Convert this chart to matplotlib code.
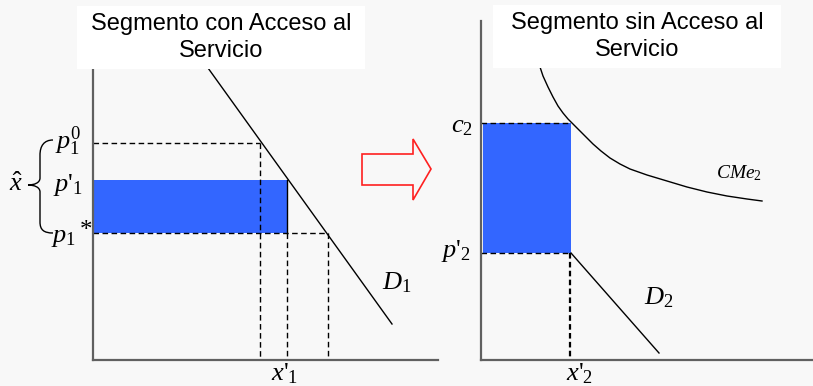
"""Two-panel diagram: market segments with and without access to the service."""

import matplotlib
matplotlib.use("Agg")
import matplotlib.pyplot as plt
from matplotlib.patches import Rectangle, Polygon, PathPatch
from matplotlib.path import Path

# --- data (figure pixel space, y grows downwards) ---
# left panel: segment with access
ax1_origin = (93, 360)
ax1_top = 68
ax1_right = 438
d1_x = [208, 392]
d1_y = [68, 324]
p1_0 = 143          # initial price
p1_prime = 180      # subsidised price
p1_star = 233       # optimal price
x_at_p0 = 260
x1_prime = 287
x_at_star = 328

# right panel: segment without access
ax2_origin = (481, 360)
ax2_top = 21
ax2_right = 813
c2 = 123
p2_prime = 253
x2_prime = 571
cme2_x = [540, 543, 548, 553, 558, 563, 568, 572, 578, 585, 593, 601,
          610, 620, 630, 647, 667, 687, 707, 727, 747, 762]
cme2_y = [67, 76, 87, 97, 106, 113, 119, 123, 129, 136, 144, 151,
          158, 164, 169, 175, 181, 187, 192, 196, 199, 201]
d2_x = [571, 659]
d2_y = [253, 353]

# arrow between panels
arrow_x = [362, 413, 413, 431, 413, 413, 362]
arrow_y = [154, 154, 139, 169, 200, 185, 185]

titles = ["Segmento con Acceso al\nServicio", "Segmento sin Acceso al\nServicio"]

BG = "#f8f8f8"
BLUE = "#3366ff"
AXIS = "#606060"

plt.rcParams["mathtext.fontset"] = "custom"
plt.rcParams["mathtext.rm"] = "Liberation Serif"
plt.rcParams["mathtext.it"] = "Liberation Serif:italic"

fig = plt.figure(figsize=(8.13, 3.86), dpi=100, facecolor=BG)
ax = fig.add_axes([0, 0, 1, 1])
ax.set_xlim(0, 813)
ax.set_ylim(386, 0)
ax.axis("off")
ax.set_facecolor(BG)

dash = dict(color="black", lw=1.0, ls=(0, (4, 2.5)))

# ---------- left panel ----------
ax.add_patch(Rectangle((ax1_origin[0], p1_prime), x1_prime - ax1_origin[0],
                       p1_star - p1_prime, facecolor=BLUE, edgecolor="none", zorder=2))
ax.plot([x1_prime, x1_prime], [p1_prime, p1_star], color="black", lw=1.0, zorder=3)
ax.plot([ax1_origin[0], x_at_p0], [p1_0, p1_0], **dash)
ax.plot([x_at_p0, x_at_p0], [p1_0, ax1_origin[1]], **dash)
ax.plot([x1_prime, x1_prime], [p1_star, ax1_origin[1]], **dash)
ax.plot([ax1_origin[0], x_at_star], [p1_star, p1_star], **dash)
ax.plot([x_at_star, x_at_star], [p1_star, ax1_origin[1]], **dash)
ax.plot(d1_x, d1_y, color="black", lw=1.0, zorder=3)
ax.plot([ax1_origin[0], ax1_origin[0]], [ax1_top, ax1_origin[1]], color=AXIS, lw=1.6, zorder=4)
ax.plot([ax1_origin[0], ax1_right], [ax1_origin[1], ax1_origin[1]], color=AXIS, lw=1.6, zorder=4)

# brace for x-hat
brace = Path(
    [(53, 140), (44, 140), (40, 146), (40, 155),
     (40, 178),
     (40, 183), (34, 185), (28, 185),
     (34, 185), (40, 187), (40, 192),
     (40, 222),
     (40, 230), (44, 233), (53, 233)],
    [Path.MOVETO, Path.CURVE4, Path.CURVE4, Path.CURVE4,
     Path.LINETO,
     Path.CURVE4, Path.CURVE4, Path.CURVE4,
     Path.CURVE4, Path.CURVE4, Path.CURVE4,
     Path.LINETO,
     Path.CURVE4, Path.CURVE4, Path.CURVE4])
ax.add_patch(PathPatch(brace, facecolor="none", edgecolor="black", lw=1.0))

lab = dict(fontsize=19, color="black", va="center", ha="left")
ax.text(55, p1_0 - 2, r"$p_1^0$", **lab)
ax.text(53, 185, r"$p\text{'}_1$", **lab)
ax.text(51, p1_star + 3, r"$p_1$", **lab)
ax.text(80, p1_star - 2, "*", fontsize=18, family="Liberation Serif", va="center", ha="left")
ax.text(9, 184, r"$\hat{x}$", **lab)
ax.text(382, 282, r"$D_1$", **lab)
ax.text(271, 373, r"$x\text{'}_1$", **lab)

# ---------- arrow ----------
ax.add_patch(Polygon(list(zip(arrow_x, arrow_y)), closed=True,
                     facecolor="none", edgecolor="#ff2020", lw=1.2))

# ---------- right panel ----------
ax.add_patch(Rectangle((ax2_origin[0] + 2, c2), x2_prime - ax2_origin[0] - 2,
                       p2_prime - c2, facecolor=BLUE, edgecolor="none", zorder=2))
ax.plot([ax2_origin[0], x2_prime], [c2, c2], **dash)
ax.plot([ax2_origin[0], x2_prime], [p2_prime, p2_prime], **dash)
ax.plot([x2_prime - 1, x2_prime - 1], [p2_prime, ax2_origin[1]], color="black", lw=1.6,
        ls=(0, (2.5, 1.5)))
ax.plot(cme2_x, cme2_y, color="black", lw=1.0, zorder=3, solid_joinstyle="round")
ax.plot(d2_x, d2_y, color="black", lw=1.0, zorder=3)
ax.plot([ax2_origin[0], ax2_origin[0]], [ax2_top, ax2_origin[1]], color=AXIS, lw=1.6, zorder=4)
ax.plot([ax2_origin[0], ax2_right], [ax2_origin[1], ax2_origin[1]], color=AXIS, lw=1.6, zorder=4)

ax.text(451, c2 + 2, r"$c_2$", **lab)
ax.text(441, p2_prime - 2, r"$p\text{'}_2$", **lab)
ax.text(644, 297, r"$D_2$", **lab)
ax.text(716, 173, r"$CMe_2$", fontsize=14, color="black", va="center", ha="left")
ax.text(566, 373, r"$x\text{'}_2$", **lab)

# ---------- titles ----------
for (x0, x1, y0, y1), title in zip([(77, 365, 6, 69), (493, 781, 5, 68)], titles):
    ax.add_patch(Rectangle((x0, y0), x1 - x0, y1 - y0, facecolor="white",
                           edgecolor="none", zorder=5))
    ax.text((x0 + x1) / 2, (y0 + y1) / 2, title, fontsize=17,
            family="Liberation Sans", ha="center", va="center",
            linespacing=1.35, zorder=6)

fig.savefig("out.png", dpi=100, facecolor=BG)
